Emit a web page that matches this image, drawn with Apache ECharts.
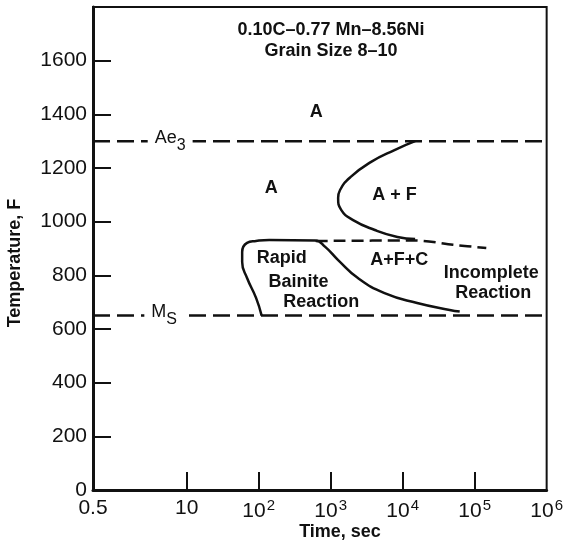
<!DOCTYPE html>
<html>
<head>
<meta charset="utf-8">
<script src="https://cdn.jsdelivr.net/npm/echarts@6/dist/echarts.min.js"></script>
<style>
  html, body { margin: 0; padding: 0; background: #fff; }
  #chart { width: 566px; height: 544px; }
</style>
</head>
<body>
<div id="chart"></div>
<script>
// Isothermal transformation diagram, 0.10C-0.77Mn-8.56Ni steel

// time axis (seconds, log scale)
const timeLabelValues = [0.5, 10, 100, 1000, 10000, 100000, 1000000];
const timeTickValues = [10, 100, 1000, 10000, 100000];

// critical temperatures, F
const ae3Temp = 1300;
const msTemp = 650;

// ferrite start curve (A -> A + F), [time s, temperature F]
const ferriteCurve = [
  [14900, 1300], [7700, 1267], [3600, 1222], [1900, 1167], [1350, 1118],
  [1270, 1088], [1400, 1044], [2050, 1006], [4100, 969], [8450, 943], [14900, 935]
];

// dashed boundary above the A+F+C field
const carbideBoundary = [
  [620, 928], [15000, 930], [50000, 914], [145000, 902]
];

// bainite reaction curve
const bainiteCurve = [
  [110, 650], [92, 716], [69, 790], [59, 850], [59, 887], [69, 921],
  [92, 928], [140, 932], [610, 930], [840, 906], [1270, 857], [2390, 790],
  [5600, 734], [15900, 697], [45000, 671], [62000, 665]
];

// field labels: [text, time s, temperature F]
const fieldLabels = [
  ['A', 630, 1410],
  ['A', 150, 1125],
  ['A + F', 7700, 1100],
  ['A+F+C', 9000, 857],
  ['Rapid', 209, 865],
  ['Bainite', 358, 775],
  ['Reaction', 741, 701],
  ['Incomplete', 170000, 809],
  ['Reaction', 181000, 734]
];

// labels sitting on the critical temperature lines
const lineLabels = [
  ['{m|Ae}{s|3}', 5.9, ae3Temp],
  ['{m|M}{s|S}', 4.87, msTemp]
];

const FONT = 'Liberation Sans';
const INK = '#111';

const chart = echarts.init(document.getElementById('chart'), null, { renderer: 'canvas' });

const supExp = { 2: '2', 3: '3', 4: '4', 5: '5', 6: '6' };

chart.setOption({
  animation: false,
  backgroundColor: '#fff',
  title: {
    text: '0.10C\u20130.77 Mn\u20138.56Ni\nGrain Size 8\u201310',
    left: 326,
    top: 15,
    textAlign: 'center',
    textStyle: { fontFamily: FONT, fontSize: 18, fontWeight: 'bold', color: INK, lineHeight: 21 }
  },
  grid: {
    left: 93, right: 14, top: 7, bottom: 54,
    show: true, borderColor: INK, borderWidth: 2, backgroundColor: 'transparent'
  },
  xAxis: {
    type: 'log',
    logBase: 10,
    min: 0.5,
    max: 1000000,
    axisLine: { lineStyle: { color: INK, width: 3 } },
    axisTick: {
      inside: true, length: 18,
      lineStyle: { color: INK, width: 2 },
      customValues: timeTickValues
    },
    axisLabel: {
      margin: 8,
      customValues: timeLabelValues,
      color: INK,
      fontFamily: FONT,
      fontSize: 21,
      formatter: function (v) {
        if (v < 1) return '0.5';
        const e = Math.round(Math.log10(v));
        if (e === 1) return '10';
        return '{b|10}{p|' + supExp[e] + '}';
      },
      rich: {
        b: { fontFamily: FONT, fontSize: 21, color: INK, verticalAlign: 'bottom' },
        p: { fontFamily: FONT, fontSize: 15, color: INK, verticalAlign: 'bottom', padding: [0, 0, 9, 1] }
      }
    },
    splitLine: { show: false },
    minorTick: { show: false }
  },
  yAxis: {
    type: 'value',
    min: 0,
    max: 1800,
    interval: 200,
    axisLine: { show: true, lineStyle: { color: INK, width: 3 } },
    axisTick: { show: true, inside: true, length: 18, lineStyle: { color: INK, width: 2 } },
    axisLabel: {
      margin: 6,
      color: INK,
      fontFamily: FONT,
      fontSize: 21,
      formatter: function (v) { return v >= 1800 ? '' : String(v); }
    },
    splitLine: { show: false }
  },
  graphic: [
    {
      type: 'text',
      x: 15, y: 263,
      rotation: Math.PI / 2,
      style: {
        text: 'Temperature, F',
        fontFamily: FONT, fontSize: 18, fontWeight: 'bold', fill: INK,
        textAlign: 'center', textVerticalAlign: 'middle'
      }
    },
    {
      type: 'text',
      x: 340, y: 532,
      style: {
        text: 'Time, sec',
        fontFamily: FONT, fontSize: 18, fontWeight: 'bold', fill: INK,
        textAlign: 'center', textVerticalAlign: 'middle'
      }
    }
  ],
  series: [
    {
      name: 'Ae3',
      type: 'line',
      data: [[0.5, ae3Temp], [1000000, ae3Temp]],
      symbol: 'none',
      lineStyle: { color: INK, width: 2.5, type: [17, 7] },
      z: 2
    },
    {
      name: 'Ms',
      type: 'line',
      data: [[0.5, msTemp], [1000000, msTemp]],
      symbol: 'none',
      lineStyle: { color: INK, width: 2.5, type: [17, 7] },
      z: 2
    },
    {
      name: 'Ferrite start',
      type: 'line',
      data: ferriteCurve,
      symbol: 'none',
      smooth: 0.5,
      lineStyle: { color: INK, width: 2.5 },
      z: 3
    },
    {
      name: 'Carbide boundary',
      type: 'line',
      data: carbideBoundary,
      symbol: 'none',
      smooth: 0.3,
      lineStyle: { color: INK, width: 2.5, type: [12, 6] },
      z: 3
    },
    {
      name: 'Bainite',
      type: 'line',
      data: bainiteCurve,
      symbol: 'none',
      smooth: 0.5,
      lineStyle: { color: INK, width: 2.5 },
      z: 3
    },
    {
      name: 'Fields',
      type: 'scatter',
      data: fieldLabels.map(function (d) { return [d[1], d[2], d[0]]; }),
      symbolSize: 1,
      itemStyle: { color: 'rgba(0,0,0,0)', opacity: 1 },
      silent: true,
      label: {
        show: true,
        position: 'inside',
        formatter: function (p) { return p.data[2]; },
        fontFamily: FONT, fontSize: 18, fontWeight: 'bold', color: INK
      },
      z: 5
    },
    {
      name: 'Line labels',
      type: 'scatter',
      data: lineLabels.map(function (d) { return [d[1], d[2], d[0]]; }),
      symbolSize: 1,
      itemStyle: { color: 'rgba(0,0,0,0)', opacity: 1 },
      silent: true,
      label: {
        show: true,
        position: 'inside',
        formatter: function (p) { return p.data[2]; },
        backgroundColor: '#fff',
        padding: [2, 7, 2, 7],
        rich: {
          m: { fontFamily: FONT, fontSize: 18, color: INK, verticalAlign: 'bottom', padding: [0, 0, 7, 0] },
          s: { fontFamily: FONT, fontSize: 16, color: INK, verticalAlign: 'bottom' }
        }
      },
      z: 6
    }
  ]
});
</script>
</body>
</html>
